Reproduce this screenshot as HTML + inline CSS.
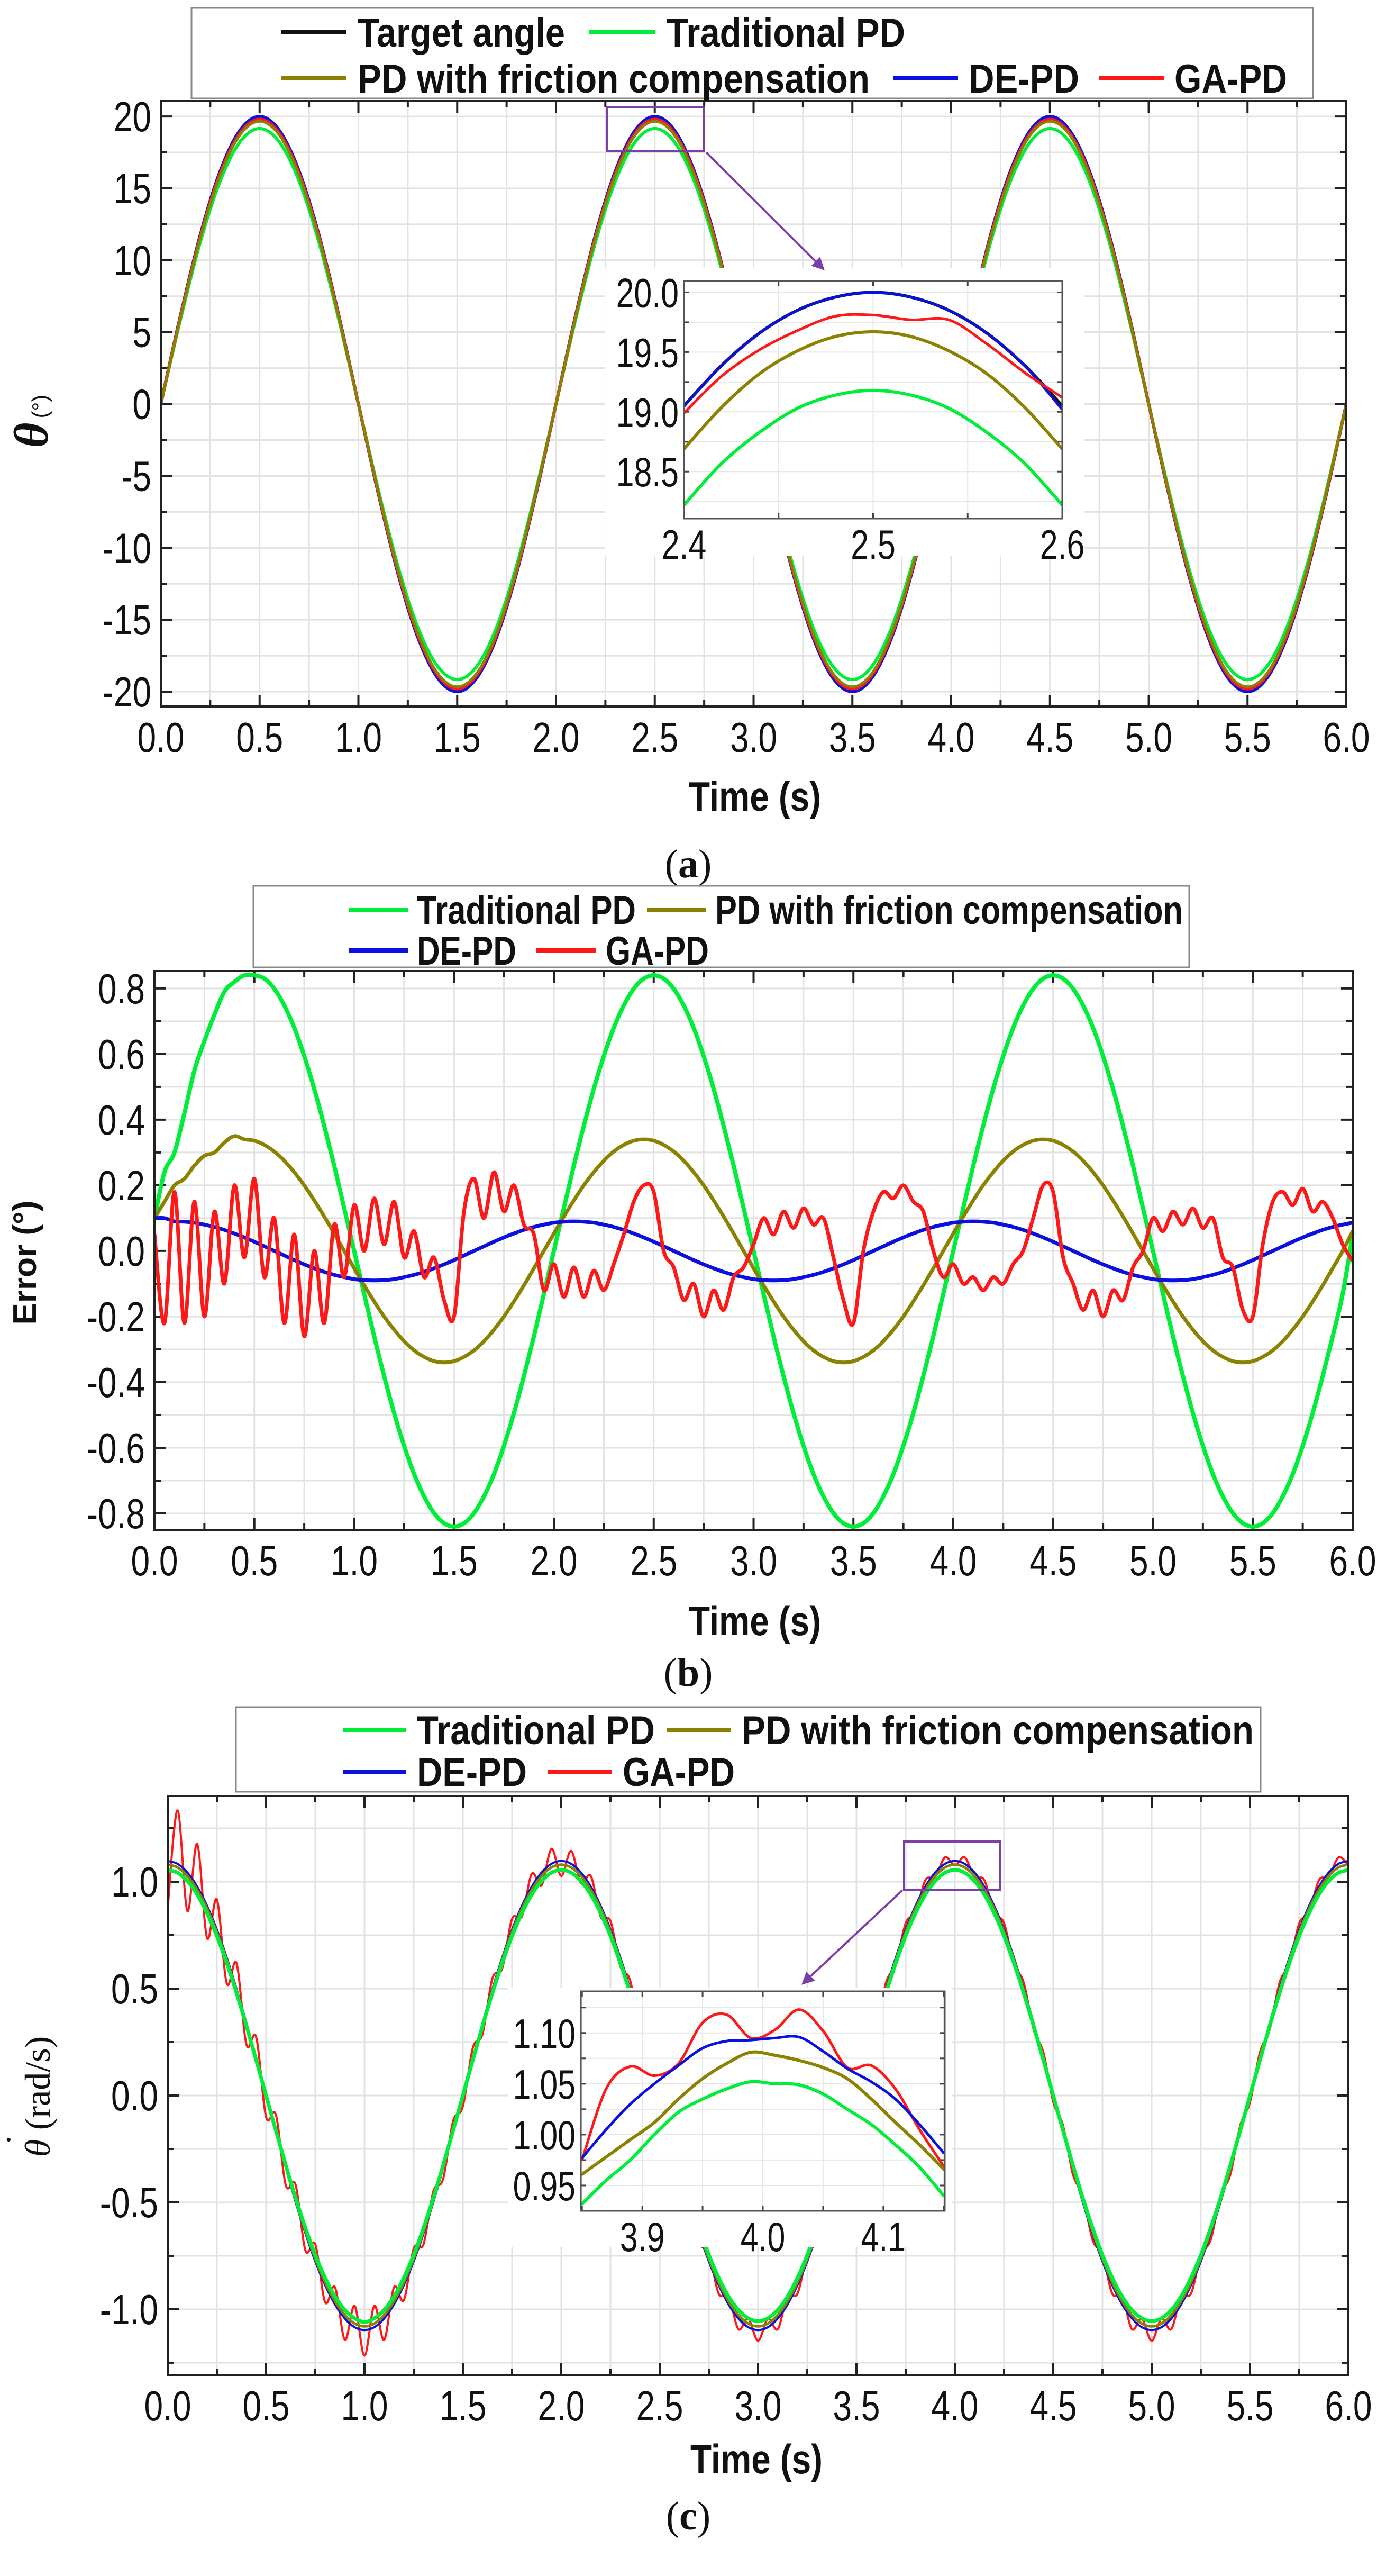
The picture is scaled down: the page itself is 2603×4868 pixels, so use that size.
<!DOCTYPE html>
<html><head><meta charset="utf-8">
<style>
html,body{margin:0;padding:0;background:#fff;}
svg{display:block;}
text{font-family:"Liberation Sans",Arial,sans-serif;fill:#111;}
</style></head>
<body>
<svg id="fig" width="2603" height="4868" xmlns="http://www.w3.org/2000/svg">
<rect x="0" y="0" width="2603" height="4868" fill="#fff"/>
<defs>
<marker id="arrowHead" markerWidth="6" markerHeight="6" refX="5" refY="3" orient="auto" markerUnits="strokeWidth"><path d="M0,0 L6,3 L0,6 Z" fill="#7b3fa8"/></marker>
</defs>
</svg>
<script>
// ---------------- DATA ----------------
const xTicks = [0,0.5,1,1.5,2,2.5,3,3.5,4,4.5,5,5.5,6];
const xTickLabels = ["0.0","0.5","1.0","1.5","2.0","2.5","3.0","3.5","4.0","4.5","5.0","5.5","6.0"];

// Chart (a) angle, samples every 0.1 s
const stepA = 0.1;
const aTarget = [0,6.18,11.76,16.18,19.02,20,19.02,16.18,11.76,6.18,0,-6.18,-11.76,-16.18,-19.02,-20,-19.02,-16.18,-11.76,-6.18,
 0,6.18,11.76,16.18,19.02,20,19.02,16.18,11.76,6.18,0,-6.18,-11.76,-16.18,-19.02,-20,-19.02,-16.18,-11.76,-6.18,
 0,6.18,11.76,16.18,19.02,20,19.02,16.18,11.76,6.18,0,-6.18,-11.76,-16.18,-19.02,-20,-19.02,-16.18,-11.76,-6.18,0];
const aTrad = [0,5.92,11.27,15.5,18.22,19.16,18.22,15.5,11.27,5.92,0,-5.92,-11.27,-15.5,-18.22,-19.16,-18.22,-15.5,-11.27,-5.92,
 0,5.92,11.27,15.5,18.22,19.16,18.22,15.5,11.27,5.92,0,-5.92,-11.27,-15.5,-18.22,-19.16,-18.22,-15.5,-11.27,-5.92,
 0,5.92,11.27,15.5,18.22,19.16,18.22,15.5,11.27,5.92,0,-5.92,-11.27,-15.5,-18.22,-19.16,-18.22,-15.5,-11.27,-5.92,0];
const aFric = [0,6.08,11.56,15.9,18.7,19.66,18.7,15.9,11.56,6.08,0,-6.08,-11.56,-15.9,-18.7,-19.66,-18.7,-15.9,-11.56,-6.08,
 0,6.08,11.56,15.9,18.7,19.66,18.7,15.9,11.56,6.08,0,-6.08,-11.56,-15.9,-18.7,-19.66,-18.7,-15.9,-11.56,-6.08,
 0,6.08,11.56,15.9,18.7,19.66,18.7,15.9,11.56,6.08,0,-6.08,-11.56,-15.9,-18.7,-19.66,-18.7,-15.9,-11.56,-6.08,0];
const aDE = [0,6.18,11.76,16.18,19.02,20,19.02,16.18,11.76,6.18,0,-6.18,-11.76,-16.18,-19.02,-20,-19.02,-16.18,-11.76,-6.18,
 0,6.18,11.76,16.18,19.02,20,19.02,16.18,11.76,6.18,0,-6.18,-11.76,-16.18,-19.02,-20,-19.02,-16.18,-11.76,-6.18,
 0,6.18,11.76,16.18,19.02,20,19.02,16.18,11.76,6.18,0,-6.18,-11.76,-16.18,-19.02,-20,-19.02,-16.18,-11.76,-6.18,0];
const aGA = [0,6.12,11.64,16.02,18.83,19.8,18.83,16.02,11.64,6.12,0,-6.12,-11.64,-16.02,-18.83,-19.8,-18.83,-16.02,-11.64,-6.12,
 0,6.12,11.64,16.02,18.83,19.8,18.83,16.02,11.64,6.12,0,-6.12,-11.64,-16.02,-18.83,-19.8,-18.83,-16.02,-11.64,-6.12,
 0,6.12,11.64,16.02,18.83,19.8,18.83,16.02,11.64,6.12,0,-6.12,-11.64,-16.02,-18.83,-19.8,-18.83,-16.02,-11.64,-6.12,0];
const aYTicks = [-20,-15,-10,-5,0,5,10,15,20];
const aYTickLabels = ["-20","-15","-10","-5","0","5","10","15","20"];

// Inset (a)
const insetATime = [2.40,2.42,2.44,2.46,2.48,2.50,2.52,2.54,2.56,2.58,2.60];
const insATarget = [19.05,19.39,19.66,19.85,19.96,20.0,19.96,19.85,19.66,19.39,19.05];
const insADE = [19.05,19.39,19.66,19.85,19.96,20.0,19.96,19.85,19.66,19.39,19.02];
const insAGA = [18.99,19.3,19.52,19.68,19.8,19.81,19.77,19.77,19.57,19.33,19.12];
const insAFric = [18.69,19.04,19.32,19.51,19.63,19.67,19.63,19.51,19.32,19.04,18.69];
const insATrad = [18.22,18.57,18.83,19.03,19.14,19.18,19.14,19.03,18.83,18.57,18.22];
const insAYTicks = [18.5,19.0,19.5,20.0];
const insAYTickLabels = ["18.5","19.0","19.5","20.0"];
const insAXTicks = [2.4,2.5,2.6];
const insAXTickLabels = ["2.4","2.5","2.6"];

// Chart (b) error, samples every 0.05 s
const stepB = 0.05;
const bTrad = [.1,.24,.3,.42,.55,.64,.72,.79,.82,.84,.84,.83,.799,.748,.68,.594,.494,.381,.26,.131,
 0,-.131,-.26,-.381,-.494,-.594,-.68,-.748,-.799,-.83,-.84,-.83,-.799,-.748,-.68,-.594,-.494,-.381,-.26,-.131,
 0,.131,.26,.381,.494,.594,.68,.748,.799,.83,.84,.83,.799,.748,.68,.594,.494,.381,.26,.131,
 0,-.131,-.26,-.381,-.494,-.594,-.68,-.748,-.799,-.83,-.84,-.83,-.799,-.748,-.68,-.594,-.494,-.381,-.26,-.131,
 0,.131,.26,.381,.494,.594,.68,.748,.799,.83,.84,.83,.799,.748,.68,.594,.494,.381,.26,.131,
 0,-.131,-.26,-.381,-.494,-.594,-.68,-.748,-.799,-.83,-.84,-.83,-.799,-.748,-.68,-.594,-.494,-.381,-.26,-.131,.05];
const bFric = [.1,.15,.2,.22,.26,.29,.3,.33,.35,.34,.336,.323,.303,.275,.24,.2,.154,.105,.053,0,
 -.053,-.105,-.154,-.2,-.24,-.275,-.303,-.323,-.336,-.34,-.336,-.323,-.303,-.275,-.24,-.2,-.154,-.105,-.053,0,
 .053,.105,.154,.2,.24,.275,.303,.323,.336,.34,.336,.323,.303,.275,.24,.2,.154,.105,.053,0,
 -.053,-.105,-.154,-.2,-.24,-.275,-.303,-.323,-.336,-.34,-.336,-.323,-.303,-.275,-.24,-.2,-.154,-.105,-.053,0,
 .053,.105,.154,.2,.24,.275,.303,.323,.336,.34,.336,.323,.303,.275,.24,.2,.154,.105,.053,0,
 -.053,-.105,-.154,-.2,-.24,-.275,-.303,-.323,-.336,-.34,-.336,-.323,-.303,-.275,-.24,-.2,-.154,-.105,-.053,0,.06];
const bDE = [.1,.1,
 .09,.089,.086,.08,.073,.064,.053,.041,.028,.014,0,-.014,-.028,-.041,-.053,-.064,-.073,-.08,-.086,-.089,
 -.09,-.089,-.086,-.08,-.073,-.064,-.053,-.041,-.028,-.014,0,.014,.028,.041,.053,.064,.073,.08,.086,.089,
 .09,.089,.086,.08,.073,.064,.053,.041,.028,.014,0,-.014,-.028,-.041,-.053,-.064,-.073,-.08,-.086,-.089,
 -.09,-.089,-.086,-.08,-.073,-.064,-.053,-.041,-.028,-.014,0,.014,.028,.041,.053,.064,.073,.08,.086,.089,
 .09,.089,.086,.08,.073,.064,.053,.041,.028,.014,0,-.014,-.028,-.041,-.053,-.064,-.073,-.08,-.086,-.089,
 -.09,-.089,-.086,-.08,-.073,-.064,-.053,-.041,-.028,-.014,0,.014,.028,.041,.053,.064,.073,.08,.086];
const bGA = [.05,-.22,.18,-.22,.15,-.2,.12,-.1,.2,-.02,.22,-.08,.1,-.22,.05,-.26,0,-.22,.08,-.08,
 .14,0,.16,.02,.15,-.02,.06,-.08,-.02,-.15,-.2,.12,.22,.1,.24,.12,.2,.08,.05,-.12,
 -.04,-.14,-.05,-.14,-.06,-.12,-.04,.05,.15,.2,.18,0,-.05,-.15,-.1,-.2,-.12,-.18,-.08,-.05,
 .02,.1,.05,.12,.07,.13,.08,.1,-.02,-.15,-.22,0,.12,.18,.16,.2,.15,.12,0,-.08,
 -.04,-.1,-.08,-.12,-.08,-.1,-.04,0,.1,.2,.18,-.02,-.1,-.18,-.12,-.2,-.12,-.15,-.05,0,
 .1,.06,.12,.08,.13,.07,.1,-.02,-.05,-.18,-.2,.02,.15,.18,.14,.19,.12,.15,.1,.02,-.03];
const bYTicks = [-0.8,-0.6,-0.4,-0.2,0,0.2,0.4,0.6,0.8];
const bYTickLabels = ["-0.8","-0.6","-0.4","-0.2","0.0","0.2","0.4","0.6","0.8"];

// Chart (c) velocity, samples every 0.05 s
const stepC = 0.05;
const cTrad = [1.055,1.042,1.003,.94,.853,.746,.62,.479,.326,.165,0,-.165,-.326,-.479,-.62,-.746,-.853,-.94,-1.003,-1.042,
 -1.06,-1.042,-1.003,-.94,-.853,-.746,-.62,-.479,-.326,-.165,0,.165,.326,.479,.62,.746,.853,.94,1.003,1.042,
 1.055,1.042,1.003,.94,.853,.746,.62,.479,.326,.165,0,-.165,-.326,-.479,-.62,-.746,-.853,-.94,-1.003,-1.042,
 -1.055,-1.042,-1.003,-.94,-.853,-.746,-.62,-.479,-.326,-.165,0,.165,.326,.479,.62,.746,.853,.94,1.003,1.042,
 1.055,1.042,1.003,.94,.853,.746,.62,.479,.326,.165,0,-.165,-.326,-.479,-.62,-.746,-.853,-.94,-1.003,-1.042,
 -1.055,-1.042,-1.003,-.94,-.853,-.746,-.62,-.479,-.326,-.165,0,.165,.326,.479,.62,.746,.853,.94,1.003,1.042,1.055];
const cFric = [1.08,1.067,1.027,.962,.874,.764,.635,.49,.334,.168,0,-.168,-.334,-.49,-.635,-.764,-.874,-.962,-1.027,-1.067,
 -1.08,-1.067,-1.027,-.962,-.874,-.764,-.635,-.49,-.334,-.168,0,.168,.334,.49,.635,.764,.874,.962,1.027,1.067,
 1.08,1.067,1.027,.962,.874,.764,.635,.49,.334,.168,0,-.168,-.334,-.49,-.635,-.764,-.874,-.962,-1.027,-1.067,
 -1.08,-1.067,-1.027,-.962,-.874,-.764,-.635,-.49,-.334,-.168,0,.168,.334,.49,.635,.764,.874,.962,1.027,1.067,
 1.08,1.067,1.027,.962,.874,.764,.635,.49,.334,.168,0,-.168,-.334,-.49,-.635,-.764,-.874,-.962,-1.027,-1.067,
 -1.08,-1.067,-1.027,-.962,-.874,-.764,-.635,-.49,-.334,-.168,0,.168,.334,.49,.635,.764,.874,.962,1.027,1.067,1.08];
const cDE = [1.097,1.084,1.043,.977,.887,.776,.645,.498,.339,.171,0,-.171,-.339,-.498,-.645,-.776,-.887,-.977,-1.043,-1.084,
 -1.097,-1.084,-1.043,-.977,-.887,-.776,-.645,-.498,-.339,-.171,0,.171,.339,.498,.645,.776,.887,.977,1.043,1.084,
 1.097,1.084,1.043,.977,.887,.776,.645,.498,.339,.171,0,-.171,-.339,-.498,-.645,-.776,-.887,-.977,-1.043,-1.084,
 -1.097,-1.084,-1.043,-.977,-.887,-.776,-.645,-.498,-.339,-.171,0,.171,.339,.498,.645,.776,.887,.977,1.043,1.084,
 1.097,1.084,1.043,.977,.887,.776,.645,.498,.339,.171,0,-.171,-.339,-.498,-.645,-.776,-.887,-.977,-1.043,-1.084,
 -1.097,-1.084,-1.043,-.977,-.887,-.776,-.645,-.498,-.339,-.171,0,.171,.339,.498,.645,.776,.887,.977,1.043,1.084,1.097];
const cGA = [.877,1.334,.863,1.177,.737,.916,.525,.618,.239,.271,-.1,-.091,-.419,-.418,-.725,-.696,-.967,-.897,-1.143,-.984,
 -1.217,-.984,-1.143,-.897,-.957,-.716,-.695,-.448,-.389,-.121,-.05,.221,.289,.548,.595,.826,.837,1.037,.983,1.154,
 1.027,1.144,.993,1.027,.837,.816,.605,.538,.299,.211,-.04,-.131,-.379,-.458,-.685,-.736,-.927,-.937,-1.093,-1.044,
 -1.147,-1.044,-1.093,-.937,-.927,-.746,-.675,-.468,-.369,-.141,-.03,.201,.309,.528,.615,.806,.857,1.007,1.023,1.114,
 1.077,1.114,1.023,1.007,.857,.806,.615,.528,.309,.201,-.03,-.141,-.369,-.468,-.675,-.746,-.927,-.937,-1.093,-1.044,
 -1.147,-1.044,-1.093,-.937,-.927,-.746,-.675,-.468,-.369,-.141,-.03,.201,.309,.528,.615,.806,.857,1.007,1.023,1.114,1.077];
const cYTicks = [-1,-0.5,0,0.5,1];
const cYTickLabels = ["-1.0","-0.5","0.0","0.5","1.0"];

// Inset (c)
const insetCTime = [3.85,3.87,3.89,3.91,3.93,3.95,3.97,3.99,4.01,4.03,4.05,4.07,4.09,4.11,4.13,4.15];
const insCGA = [.975,1.045,1.067,1.058,1.07,1.11,1.118,1.095,1.103,1.123,1.102,1.066,1.068,1.045,1.005,.969];
const insCDE = [.977,1.005,1.03,1.05,1.068,1.085,1.092,1.093,1.095,1.096,1.082,1.065,1.052,1.035,1.01,.982];
const insCFric = [.961,.978,.995,1.012,1.035,1.055,1.07,1.081,1.078,1.073,1.066,1.055,1.035,1.012,.99,.966];
const insCTrad = [.932,.955,.975,1.0,1.022,1.035,1.045,1.052,1.05,1.049,1.04,1.025,1.01,.99,.968,.94];
const insCYTicks = [0.95,1.0,1.05,1.10];
const insCYTickLabels = ["0.95","1.00","1.05","1.10"];
const insCXTicks = [3.9,4.0,4.1];
const insCXTickLabels = ["3.9","4.0","4.1"];

// ---------------- DRAWING ----------------
const NS = "http://www.w3.org/2000/svg";
const svg = document.getElementById('fig');
const C = {black:'#111', green:'#00ee3a', olive:'#8a8200', blue:'#0a10e0', red:'#ff1818', purple:'#7b3fa8'};
function mk(tag, attrs, parent){
  const e = document.createElementNS(NS, tag);
  for (const k in attrs) e.setAttribute(k, attrs[k]);
  (parent||svg).appendChild(e);
  return e;
}
function lin(d0,d1,r0,r1){ return v => r0 + (v-d0)*(r1-r0)/(d1-d0); }
function smoothPath(px, py){
  let d = 'M'+px[0].toFixed(1)+','+py[0].toFixed(1);
  for (let i=0;i<px.length-1;i++){
    const x0=px[Math.max(i-1,0)], y0=py[Math.max(i-1,0)];
    const x1=px[i], y1=py[i], x2=px[i+1], y2=py[i+1];
    const x3=px[Math.min(i+2,px.length-1)], y3=py[Math.min(i+2,py.length-1)];
    const c1x=x1+(x2-x0)/6, c1y=y1+(y2-y0)/6, c2x=x2-(x3-x1)/6, c2y=y2-(y3-y1)/6;
    d += ' C'+c1x.toFixed(1)+','+c1y.toFixed(1)+' '+c2x.toFixed(1)+','+c2y.toFixed(1)+' '+x2.toFixed(1)+','+y2.toFixed(1);
  }
  return d;
}
function condense(t, f){
  const w = t.getComputedTextLength();
  t.setAttribute('textLength', (w*f).toFixed(1));
  t.setAttribute('lengthAdjust','spacingAndGlyphs');
}
let clipN = 0;
function axes(cfg){
  const g = mk('g', {});
  const sx = lin(cfg.xmin,cfg.xmax,cfg.L,cfg.R), sy = lin(cfg.ymin,cfg.ymax,cfg.B,cfg.T);
  for (let v=cfg.xmin; v<=cfg.xmax+1e-9; v+=cfg.xMinor){
    const l = mk('line',{x1:sx(v),x2:sx(v),y1:cfg.T,y2:cfg.B,stroke:'#e2e2e2','stroke-width':3},g);
    
    
  }
  for (let v=cfg.yGridStart; v<=cfg.ymax+1e-9; v+=cfg.yMinor){
    const l = mk('line',{x1:cfg.L,x2:cfg.R,y1:sy(v),y2:sy(v),stroke:'#e2e2e2','stroke-width':3},g);
    
    
  }
  for (let v=cfg.xmin; v<=cfg.xmax+1e-9; v+=cfg.xMinor){
    const major = Math.abs(v/cfg.xMajor - Math.round(v/cfg.xMajor))<1e-6;
    const len = major?22:12;
    mk('line',{x1:sx(v),x2:sx(v),y1:cfg.B,y2:cfg.B-len,stroke:'#222','stroke-width':4},g);
    mk('line',{x1:sx(v),x2:sx(v),y1:cfg.T,y2:cfg.T+len,stroke:'#222','stroke-width':4},g);
  }
  for (let v=cfg.yGridStart; v<=cfg.ymax+1e-9; v+=cfg.yMinor){
    const major = Math.abs(v/cfg.yMajor - Math.round(v/cfg.yMajor))<1e-6;
    const len = major?22:12;
    mk('line',{x1:cfg.L,x2:cfg.L+len,y1:sy(v),y2:sy(v),stroke:'#222','stroke-width':4},g);
    mk('line',{x1:cfg.R,x2:cfg.R-len,y1:sy(v),y2:sy(v),stroke:'#222','stroke-width':4},g);
  }
  cfg.xTicks.forEach((v,i)=>{
    const t = mk('text',{x:sx(v),y:cfg.B+86,'text-anchor':'middle','font-size':80},g);
    t.textContent = cfg.xLabels[i];
    
    
    condense(t,0.8);
  });
  cfg.yTicks.forEach((v,i)=>{
    const t = mk('text',{x:cfg.L-18,y:sy(v)+28,'text-anchor':'end','font-size':80},g);
    t.textContent = cfg.yLabels[i];
    
    
    condense(t,0.8);
  });
  const cp = mk('clipPath',{id:'clip'+(++clipN)},g);
  mk('rect',{x:cfg.L,y:cfg.T,width:cfg.R-cfg.L,height:cfg.B-cfg.T},cp);
  const series = mk('g',{'clip-path':'url(#clip'+clipN+')'});
  return {g, sx, sy, series, cfg};
}
function frame(cfg){
  const f = mk('rect',{x:cfg.L,y:cfg.T,width:cfg.R-cfg.L,height:cfg.B-cfg.T,fill:'none',stroke:'#222','stroke-width':4});
  
  
}
function drawSeries(ax, times, vals, color, w, name){
  const px = times.map(ax.sx), py = vals.map(ax.sy);
  const p = mk('path',{d:smoothPath(px,py),fill:'none',stroke:color,'stroke-width':w,'stroke-linejoin':'round','stroke-linecap':'round'},ax.series);
  
  
}
function timesFor(n, step, t0){ const a=[]; for(let i=0;i<n;i++) a.push((t0||0)+i*step); return a; }
function legendEntry(x1,x2,y,color,label,tx,tw,name){
  const l = mk('line',{x1:x1,x2:x2,y1:y,y2:y,stroke:color,'stroke-width':8});
  
  
  const t = mk('text',{x:tx,y:y+27,'font-size':76,'font-weight':'bold'});
  t.textContent = label;
  t.setAttribute('textLength',tw);
  t.setAttribute('lengthAdjust','spacingAndGlyphs');
  
  
}
function legendBox(x,y,w,h,name){
  const r = mk('rect',{x:x,y:y,width:w,height:h,fill:'#fff',stroke:'#888','stroke-width':3});
  
  
}
function axisTitle(x,y,label,name){
  const t = mk('text',{x:x,y:y,'text-anchor':'middle','font-size':78,'font-weight':'bold'});
  t.textContent = label;
  
  
  condense(t,0.84);
}
function caption(x,y,letter,name){
  const t = mk('text',{x:x,y:y,'text-anchor':'middle','font-size':76,style:'font-family:"Liberation Serif",serif'});
  const a = mk('tspan',{},t); a.textContent='(';
  const b = mk('tspan',{'font-weight':'bold'},t); b.textContent=letter;
  const c = mk('tspan',{},t); c.textContent=')';
  
  
}
function insetAxes(cfg, bg){
  const r = mk('rect',{x:bg[0],y:bg[1],width:bg[2],height:bg[3],fill:'#fff'});
  
  
  const g = mk('g',{});
  const sx = lin(cfg.xmin,cfg.xmax,cfg.L,cfg.R), sy = lin(cfg.ymin,cfg.ymax,cfg.B,cfg.T);
  for (let v=cfg.xGridStart; v<=cfg.xmax+1e-9; v+=cfg.xMinor){
    mk('line',{x1:sx(v),x2:sx(v),y1:cfg.T,y2:cfg.B,stroke:'#e6e6e6','stroke-width':2},g);
    mk('line',{x1:sx(v),x2:sx(v),y1:cfg.B,y2:cfg.B-10,stroke:'#444','stroke-width':3},g);
    mk('line',{x1:sx(v),x2:sx(v),y1:cfg.T,y2:cfg.T+10,stroke:'#444','stroke-width':3},g);
  }
  for (let v=cfg.yGridStart; v<=cfg.ymax+1e-9; v+=cfg.yMinor){
    mk('line',{x1:cfg.L,x2:cfg.R,y1:sy(v),y2:sy(v),stroke:'#e6e6e6','stroke-width':2},g);
    mk('line',{x1:cfg.L,x2:cfg.L+10,y1:sy(v),y2:sy(v),stroke:'#444','stroke-width':3},g);
    mk('line',{x1:cfg.R,x2:cfg.R-10,y1:sy(v),y2:sy(v),stroke:'#444','stroke-width':3},g);
  }
  cfg.xTicks.forEach((v,i)=>{
    const t = mk('text',{x:sx(v),y:cfg.B+76,'text-anchor':'middle','font-size':78},g);
    t.textContent = cfg.xLabels[i];
    
    
    condense(t,0.78);
  });
  cfg.yTicks.forEach((v,i)=>{
    const t = mk('text',{x:cfg.L-10,y:sy(v)+28,'text-anchor':'end','font-size':78},g);
    t.textContent = cfg.yLabels[i];
    
    
    condense(t,0.78);
  });
  const cp = mk('clipPath',{id:'clip'+(++clipN)},g);
  mk('rect',{x:cfg.L,y:cfg.T,width:cfg.R-cfg.L,height:cfg.B-cfg.T},cp);
  const series = mk('g',{'clip-path':'url(#clip'+clipN+')'});
  return {g, sx, sy, series, cfg};
}
function insetFrame(cfg){
  const f = mk('rect',{x:cfg.L,y:cfg.T,width:cfg.R-cfg.L,height:cfg.B-cfg.T,fill:'none',stroke:'#555','stroke-width':3});
  
  
}
function zoomMark(x,y,w,h,ax1,ay1,ax2,ay2){
  const r = mk('rect',{x:x,y:y,width:w,height:h,fill:'none',stroke:C.purple,'stroke-width':4});
  
  
  const l = mk('line',{x1:ax1,y1:ay1,x2:ax2,y2:ay2,stroke:C.purple,'stroke-width':4,'marker-end':'url(#arrowHead)'});
  
  
}

// ===== Chart (a) =====
const cfgA = {L:304,R:2545,T:191,B:1335,xmin:0,xmax:6,ymin:-21.03,ymax:21.07,xMinor:0.25,xMajor:0.5,yMinor:2.5,yMajor:5,yGridStart:-20,
  xTicks:xTicks,xLabels:xTickLabels,yTicks:aYTicks,yLabels:aYTickLabels};
const axA = axes(cfgA);
const tA = timesFor(aTarget.length, stepA);
drawSeries(axA,tA,aTarget,C.black,6,'target-angle-line');
drawSeries(axA,tA,aDE,C.blue,6,'de-pd-line');
drawSeries(axA,tA,aTrad,C.green,6,'traditional-pd-line');
drawSeries(axA,tA,aGA,C.red,6,'ga-pd-line');
drawSeries(axA,tA,aFric,C.olive,5,'pd-friction-line');
frame(cfgA);
legendBox(362,15,2120,171,'legend-a');
legendEntry(531,654,61,C.black,'Target angle',676,392,'legend-target-angle');
legendEntry(1113,1238,61,C.green,'Traditional PD',1260,451,'legend-traditional-pd');
legendEntry(531,654,148,C.olive,'PD with friction compensation',676,968,'legend-pd-friction');
legendEntry(1689,1811,148,C.blue,'DE-PD',1831,209,'legend-de-pd');
legendEntry(2078,2200,148,C.red,'GA-PD',2220,213,'legend-ga-pd');
axisTitle(1427,1532,'Time (s)','x-axis-title-a');
(function(){
  const t = mk('text',{transform:'translate(90,796) rotate(-90)','text-anchor':'middle'});
  const a = mk('tspan',{'font-size':92,'font-weight':'bold','font-style':'italic',style:'font-family:"Liberation Serif",serif'},t); a.textContent='θ';
  const b = mk('tspan',{'font-size':42,dx:8},t); b.textContent='(°)';
  
  
})();
const cfgIA = {L:1293,R:2008,T:531,B:980,xmin:2.4,xmax:2.6,ymin:18.107,ymax:20.095,xMinor:0.05,xGridStart:2.4,yMinor:0.25,yGridStart:18.25,
  xTicks:insAXTicks,xLabels:insAXTickLabels,yTicks:insAYTicks,yLabels:insAYTickLabels};
const axIA = insetAxes(cfgIA,[1143,507,907,544]);
drawSeries(axIA,insetATime,insATarget,C.black,6,'inset-a-target-line');
drawSeries(axIA,insetATime,insADE,C.blue,5,'inset-a-de-pd-line');
drawSeries(axIA,insetATime,insAGA,C.red,5,'inset-a-ga-pd-line');
drawSeries(axIA,insetATime,insAFric,C.olive,6,'inset-a-pd-friction-line');
drawSeries(axIA,insetATime,insATrad,C.green,6,'inset-a-traditional-pd-line');
insetFrame(cfgIA);
zoomMark(1148,202,182,84,1335,288,1556,508);
caption(1301,1658,'a','caption-a');

// ===== Chart (b) =====
const cfgB = {L:292,R:2557,T:1835,B:2891,xmin:0,xmax:6,ymin:-0.85,ymax:0.853,xMinor:0.25,xMajor:0.5,yMinor:0.1,yMajor:0.2,yGridStart:-0.8,
  xTicks:xTicks,xLabels:xTickLabels,yTicks:bYTicks,yLabels:bYTickLabels};
const axB = axes(cfgB);
const tB = timesFor(bTrad.length, stepB);
drawSeries(axB,tB,bTrad,C.green,8,'traditional-pd-error-line');
drawSeries(axB,tB,bFric,C.olive,7,'pd-friction-error-line');
drawSeries(axB,tB,bDE,C.blue,7,'de-pd-error-line');
drawSeries(axB,tB,bGA,C.red,7,'ga-pd-error-line');
frame(cfgB);
legendBox(479,1674,1769,154,'legend-b');
legendEntry(659,771,1719,C.green,'Traditional PD',788,414,'legend-b-traditional-pd');
legendEntry(1223,1335,1719,C.olive,'PD with friction compensation',1352,884,'legend-b-pd-friction');
legendEntry(659,771,1796,C.blue,'DE-PD',788,188,'legend-b-de-pd');
legendEntry(1013,1127,1796,C.red,'GA-PD',1145,195,'legend-b-ga-pd');
axisTitle(1427,3090,'Time (s)','x-axis-title-b');
(function(){
  const t = mk('text',{transform:'translate(68,2386) rotate(-90)','text-anchor':'middle','font-size':62,'font-weight':'bold'});
  t.textContent='Error (°)';
  
  
})();
caption(1301,3186,'b','caption-b');

// ===== Chart (c) =====
const cfgC = {L:317,R:2549,T:3394,B:4488,xmin:0,xmax:6,ymin:-1.307,ymax:1.401,xMinor:0.25,xMajor:0.5,yMinor:0.25,yMajor:0.5,yGridStart:-1.25,
  xTicks:xTicks,xLabels:xTickLabels,yTicks:cYTicks,yLabels:cYTickLabels};
const axC = axes(cfgC);
const tC = timesFor(cTrad.length, stepC);
drawSeries(axC,tC,cGA,C.red,4,'ga-pd-velocity-line');
drawSeries(axC,tC,cDE,C.blue,4,'de-pd-velocity-line');
drawSeries(axC,tC,cFric,C.olive,5,'pd-friction-velocity-line');
drawSeries(axC,tC,cTrad,C.green,7,'traditional-pd-velocity-line');
frame(cfgC);
legendBox(446,3226,1937,160,'legend-c');
legendEntry(648,768,3269,C.green,'Traditional PD',788,450,'legend-c-traditional-pd');
legendEntry(1260,1382,3269,C.olive,'PD with friction compensation',1402,968,'legend-c-pd-friction');
legendEntry(648,768,3348,C.blue,'DE-PD',788,208,'legend-c-de-pd');
legendEntry(1035,1157,3348,C.red,'GA-PD',1177,212,'legend-c-ga-pd');
axisTitle(1430,4674,'Time (s)','x-axis-title-c');
(function(){
  const t = mk('text',{transform:'translate(94,3962) rotate(-90)','text-anchor':'middle','font-size':68,style:'font-family:"Liberation Serif",serif'});
  const a = mk('tspan',{'font-style':'italic'},t); a.textContent='θ';
  const d = mk('tspan',{dx:-12,dy:-36,'font-size':68},t); d.textContent='˙';
  const b = mk('tspan',{dx:-10,dy:36},t); b.textContent=' (rad/s)';
  
  
})();
const cfgIC = {L:1098,R:1786,T:3763,B:4178,xmin:3.849,xmax:4.151,ymin:0.925,ymax:1.141,xMinor:0.05,xGridStart:3.85,yMinor:0.025,yGridStart:0.95,
  xTicks:insCXTicks,xLabels:insCXTickLabels,yTicks:insCYTicks,yLabels:insCYTickLabels};
const axIC = insetAxes(cfgIC,[960,3756,840,490]);
drawSeries(axIC,insetCTime,insCGA,C.red,5,'inset-c-ga-pd-line');
drawSeries(axIC,insetCTime,insCDE,C.blue,5,'inset-c-de-pd-line');
drawSeries(axIC,insetCTime,insCFric,C.olive,6,'inset-c-pd-friction-line');
drawSeries(axIC,insetCTime,insCTrad,C.green,6,'inset-c-traditional-pd-line');
insetFrame(cfgIC);
zoomMark(1709,3480,182,92,1706,3572,1518,3748);
caption(1301,4780,'c','caption-c');
</script>
</body></html>
